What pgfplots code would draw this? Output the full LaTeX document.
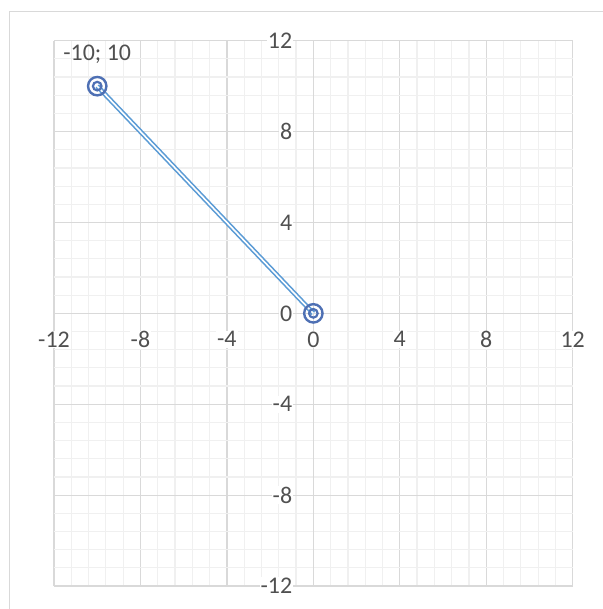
\documentclass[border=0pt]{standalone}
\usepackage{fontspec}
\setmainfont{Carlito}
\usepackage{pgfplots}
\pgfplotsset{compat=1.18}
\definecolor{gridmajor}{HTML}{D9D9D9}
\definecolor{gridminor}{HTML}{F0F0F0}
\definecolor{txt}{HTML}{505050}
\definecolor{linec}{HTML}{5B9BD5}
\definecolor{markc}{HTML}{4E70B4}
\newcommand{\ptlabel}{-10; 10}
\begin{document}
\begin{tikzpicture}
\useasboundingbox (-54bp,-23bp) rectangle (549bp,586bp);
\draw[gridmajor, line width=1.2bp] (-44.7bp,-40bp) -- (-44.7bp,574.3bp) -- (560bp,574.3bp);
\begin{axis}[
  at={(0,0)}, anchor=south west,
  scale only axis, width=518.7bp, height=545.3bp,
  xmin=-12,xmax=12,ymin=-12,ymax=12,
  axis lines=middle,
  axis line style={draw=gridmajor, line width=1.2bp, -},
  xtick={-12,-8,...,12}, ytick={-12,-8,...,12},
  minor tick num=4,
  grid=both,
  major grid style={draw=gridmajor, line width=1.2bp},
  minor grid style={draw=gridminor, line width=1.2bp},
  major tick length=0pt, minor tick length=0pt,
  hide obscured x ticks=false, hide obscured y ticks=false,
  tick label style={font=\fontsize{24}{28}\selectfont, text=txt, fill=white, inner sep=1bp},
  /pgf/number format/assume math mode=true,
  xticklabel style={anchor=north, yshift=-17bp},
  yticklabel style={anchor=east, xshift=-20bp},
  clip=false,
]
\addplot[draw=linec, line width=1.6bp, double=white, double distance=1.6bp] coordinates {(-10,10) (0,0)};
\addplot[only marks, mark=o, mark size=9.2bp, mark options={draw=markc, line width=2.4bp}] coordinates {(-10,10) (0,0)};
\addplot[only marks, mark=o, mark size=4.3bp, mark options={draw=markc, line width=2.2bp}] coordinates {(-10,10) (0,0)};
\addplot[draw=none, nodes near coords={\ptlabel},
  every node near coord/.append style={anchor=base, yshift=26bp, inner sep=0pt, font=\fontsize{24}{28}\selectfont, text=txt}]
  coordinates {(-10,10)};
\end{axis}
\end{tikzpicture}
\end{document}
